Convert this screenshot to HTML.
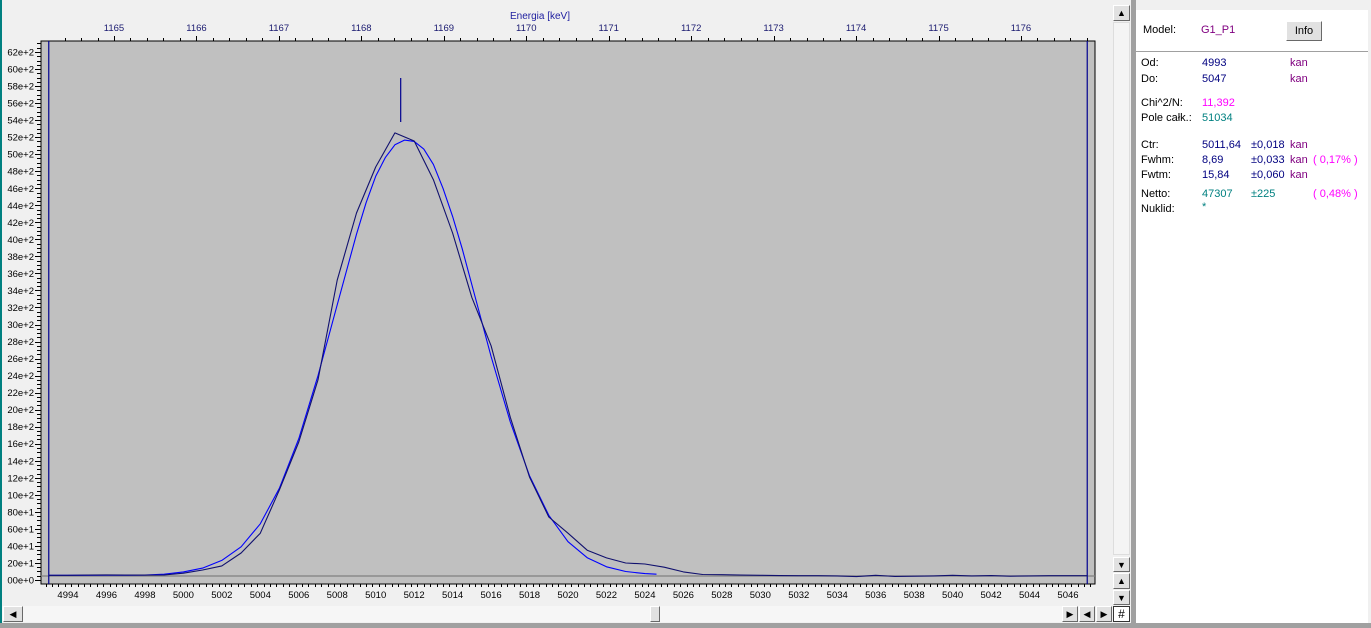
<!DOCTYPE html>
<html><head><meta charset="utf-8">
<style>
html,body{margin:0;padding:0;width:1371px;height:628px;overflow:hidden;background:#f0f0f0;font-family:"Liberation Sans",sans-serif;}
#root{position:absolute;left:0;top:0;width:1371px;height:628px;}
.p{position:absolute;font-size:11px;white-space:nowrap;}
.btn{position:absolute;background:#e1e1e1;border:1px solid #fff;border-right-color:#696969;border-bottom-color:#696969;box-sizing:border-box;font-size:9px;text-align:center;line-height:14px;color:#000;}
</style></head><body>
<div id="root">
<div style="position:absolute;left:0;top:0;width:2px;height:628px;background:#008080"></div>
<svg id="chart" width="1110" height="606" style="position:absolute;left:0;top:0"></svg>

<div class="btn" style="left:1113px;top:5px;width:17px;height:16px">▲</div>
<div style="position:absolute;left:1113px;top:22px;width:17px;height:533px;background:#f4f4f4;border:1px solid #ddd;box-sizing:border-box"></div>
<div class="btn" style="left:1113px;top:557px;width:17px;height:15px">▼</div>
<div class="btn" style="left:1113px;top:573px;width:17px;height:16px">▲</div>
<div class="btn" style="left:1113px;top:590px;width:17px;height:15px">▼</div>

<div style="position:absolute;left:2px;top:606px;width:1092px;height:16px;background:#f6f6f6"></div>
<div class="btn" style="left:3px;top:606px;width:20px;height:16px">◀</div>
<div class="btn" style="left:650px;top:606px;width:10px;height:16px"></div>
<div class="btn" style="left:1062px;top:606px;width:16px;height:16px">▶</div>
<div class="btn" style="left:1079px;top:606px;width:16px;height:16px">◀</div>
<div class="btn" style="left:1096px;top:606px;width:16px;height:16px">▶</div>
<div class="btn" style="left:1113px;top:606px;width:17px;height:16px;font-size:12px;background:#fff;border:1px solid #333">#</div>
<div style="position:absolute;left:0;top:623px;width:1371px;height:5px;background:#a0a0a0"></div>
<div style="position:absolute;left:1131px;top:0;width:5px;height:628px;background:#a0a0a0"></div>

<div style="position:absolute;left:1136px;top:4px;width:232px;height:619px;background:#fff">
  <div style="position:absolute;left:0;top:47px;width:232px;height:1px;background:#a0a0a0"></div>
  <div style="position:absolute;left:0;top:0;width:232px;height:6px;background:#f0f0f0"></div>
</div>
<div class="p" style="left:1143px;top:24px;color:#000">Model:</div>
<div class="p" style="left:1201px;top:24px;color:#800080">G1_P1</div>
<div class="btn" style="left:1286px;top:21px;width:36px;height:20px;font-size:11px;line-height:18px">Info</div>

<div class="p" style="left:1141px;top:57px">Od:</div>
<div class="p" style="left:1202px;top:57px;color:#000080">4993</div>
<div class="p" style="left:1290px;top:57px;color:#800080">kan</div>
<div class="p" style="left:1141px;top:73px">Do:</div>
<div class="p" style="left:1202px;top:73px;color:#000080">5047</div>
<div class="p" style="left:1290px;top:73px;color:#800080">kan</div>
<div class="p" style="left:1141px;top:97px">Chi^2/N:</div>
<div class="p" style="left:1202px;top:97px;color:#ff00ff">11,392</div>
<div class="p" style="left:1141px;top:112px">Pole całk.:</div>
<div class="p" style="left:1202px;top:112px;color:#008080">51034</div>

<div class="p" style="left:1141px;top:139px">Ctr:</div>
<div class="p" style="left:1202px;top:139px;color:#000080">5011,64</div>
<div class="p" style="left:1251px;top:139px;color:#000080">±0,018</div>
<div class="p" style="left:1290px;top:139px;color:#800080">kan</div>
<div class="p" style="left:1141px;top:154px">Fwhm:</div>
<div class="p" style="left:1202px;top:154px;color:#000080">8,69</div>
<div class="p" style="left:1251px;top:154px;color:#000080">±0,033</div>
<div class="p" style="left:1290px;top:154px;color:#800080">kan</div>
<div class="p" style="left:1313px;top:154px;color:#ff00ff">( 0,17% )</div>
<div class="p" style="left:1141px;top:169px">Fwtm:</div>
<div class="p" style="left:1202px;top:169px;color:#000080">15,84</div>
<div class="p" style="left:1251px;top:169px;color:#000080">±0,060</div>
<div class="p" style="left:1290px;top:169px;color:#800080">kan</div>
<div class="p" style="left:1141px;top:188px">Netto:</div>
<div class="p" style="left:1202px;top:188px;color:#008080">47307</div>
<div class="p" style="left:1251px;top:188px;color:#008080">±225</div>
<div class="p" style="left:1313px;top:188px;color:#ff00ff">( 0,48% )</div>
<div class="p" style="left:1141px;top:203px">Nuklid:</div>
<div class="p" style="left:1202px;top:201px;color:#008080">*</div>
</div>
<script>
const channels=[4993,4994,4995,4996,4997,4998,4999,5000,5001,5002,5003,5004,5005,5006,5007,5008,5009,5010,5011,5012,5013,5014,5015,5016,5017,5018,5019,5020,5021,5022,5023,5024,5025,5026,5027,5028,5029,5030,5031,5032,5033,5034,5035,5036,5037,5038,5039,5040,5041,5042,5043,5044,5045,5046,5047];
const measured=[55,55,57,60,58,57,60,80,117,165,317,550,1060,1620,2350,3520,4310,4850,5250,5155,4700,4075,3320,2750,1910,1210,740,550,350,260,200,188,150,95,65,62,58,55,52,50,50,48,40,55,42,45,48,55,48,52,45,48,50,50,50];
const fitCh=[4993,4994,4996,4998,4999,5000,5001,5002,5003,5004,5005,5006,5007,5008,5009,5009.5,5010,5010.5,5011,5011.5,5012,5012.5,5013,5013.5,5014,5014.5,5015,5016,5017,5018,5019,5020,5021,5022,5023,5024,5024.6];
const fitVal=[55,55,56,58,68,95,140,230,390,660,1080,1660,2400,3230,4060,4430,4740,4960,5110,5165,5150,5060,4880,4600,4270,3890,3470,2625,1855,1225,760,450,262,155,100,75,68];
const yTickVals=[0,200,400,600,800,1000,1200,1400,1600,1800,2000,2200,2400,2600,2800,3000,3200,3400,3600,3800,4000,4200,4400,4600,4800,5000,5200,5400,5600,5800,6000,6200];
const yTickLabels=["00e+0","20e+1","40e+1","60e+1","80e+1","10e+2","12e+2","14e+2","16e+2","18e+2","20e+2","22e+2","24e+2","26e+2","28e+2","30e+2","32e+2","34e+2","36e+2","38e+2","40e+2","42e+2","44e+2","46e+2","48e+2","50e+2","52e+2","54e+2","56e+2","58e+2","60e+2","62e+2"];
const xTickVals=[4994,4996,4998,5000,5002,5004,5006,5008,5010,5012,5014,5016,5018,5020,5022,5024,5026,5028,5030,5032,5034,5036,5038,5040,5042,5044,5046];
const keVTicks=[1165,1166,1167,1168,1169,1170,1171,1172,1173,1174,1175,1176];
const centroid=[5011.3];
const rangeLimits=[4993,5047];
const baseline=[47];

const NS="http://www.w3.org/2000/svg";
const svg=document.getElementById('chart');
const L=41,T=41,R=1095,B=584;
const xS=c=>68+(c-4994)*(1000/52);
const yS=v=>580-v*(528/6200);
const kS=k=>114+(k-1165)*(907/11);
function el(tag,attrs,parent){const e=document.createElementNS(NS,tag);for(const k in attrs)e.setAttribute(k,attrs[k]);(parent||svg).appendChild(e);return e;}
function txt(x,y,s,anchor,color,size){const t=el('text',{x:x,y:y,'text-anchor':anchor,fill:color,'font-size':size||9.5,'font-family':'Liberation Sans, sans-serif'});t.textContent=s;return t;}

const bg=el('rect',{x:L,y:T,width:R-L,height:B-T,fill:'#c0c0c0',stroke:'#000','stroke-width':1});



const yAxis=el('g',{});


for(let v=0;v<=6300;v+=50){const y=Math.round(yS(v))+0.5;if(y<T)break;const major=v%200===0;el('line',{x1:major?35:37,x2:L,y1:y,y2:y,stroke:'#000','stroke-width':1},yAxis);}
yTickVals.forEach((v,i)=>{const t=txt(34,yS(v)+3.5,yTickLabels[i],'end','#000',9.5);yAxis.appendChild(t);

});

const xAxis=el('g',{});


for(let i=0;i<=3*56;i++){const c=4992.5+i/3;const x=Math.round(xS(c))+0.5;if(x<L||x>R)continue;const major=Math.abs(c-Math.round(c))<0.01&&Math.round(c)%2===0;el('line',{x1:x,x2:x,y1:B,y2:B+(major?5:3),stroke:'#000','stroke-width':1},xAxis);}
xTickVals.forEach(c=>{const t=txt(xS(c),598,String(c),'middle','#000',9.5);xAxis.appendChild(t);

});

const kAxis=el('g',{});


for(let i=0;i<=70;i++){const k=1164.4+i*0.2;const x=Math.round(kS(k))+0.5;if(x<L||x>R)continue;const major=Math.abs(k-Math.round(k))<0.01;el('line',{x1:x,x2:x,y1:T,y2:T-(major?5:3),stroke:'#000','stroke-width':1},kAxis);}
keVTicks.forEach(k=>{const t=txt(kS(k),31,String(k),'middle','#1a1a70',9.5);kAxis.appendChild(t);

});
const title=txt(540,19,'Energia [keV]','middle','#2020a0',10);



const bl=el('line',{x1:L,x2:R,y1:yS(baseline[0]),y2:yS(baseline[0]),stroke:'#808080','stroke-width':1.2});



rangeLimits.forEach(c=>{const l=el('line',{x1:xS(c),x2:xS(c),y1:T,y2:B,stroke:'#000090','stroke-width':1.2});

});

const fp=el('polyline',{points:fitCh.map((c,i)=>xS(c).toFixed(1)+','+yS(fitVal[i]).toFixed(1)).join(' '),fill:'none',stroke:'#0000ff','stroke-width':1.1,'stroke-linejoin':'round'});


const mp=el('polyline',{points:channels.map((c,i)=>xS(c).toFixed(1)+','+yS(measured[i]).toFixed(1)).join(' '),fill:'none',stroke:'#10106e','stroke-width':1.1,'stroke-linejoin':'round'});


const cm=el('line',{x1:xS(centroid[0]),x2:xS(centroid[0]),y1:78,y2:122,stroke:'#000090','stroke-width':1.2});


</script>
</body></html>
